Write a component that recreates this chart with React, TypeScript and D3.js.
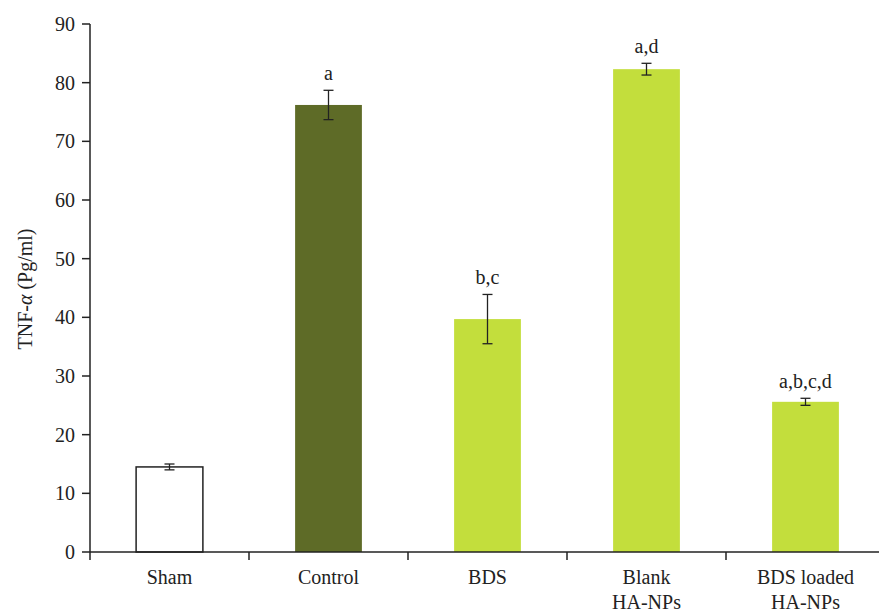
import React from "react";
import * as d3 from "d3";

const categories = ["Sham", "Control", "BDS", "Blank\nHA-NPs", "BDS loaded\nHA-NPs"];
const values = [14.5, 76.2, 39.7, 82.3, 25.6];
const errors = [0.5, 2.5, 4.2, 1.0, 0.6];
const letters = ["", "a", "b,c", "a,d", "a,b,c,d"];
const fills = ["#ffffff", "#5e6b27", "#c3de3c", "#c3de3c", "#c3de3c"];
const yTicks = [0, 10, 20, 30, 40, 50, 60, 70, 80, 90];

export default function App() {
  const W = 879, H = 614;
  const left = 90, top = 24, bottom = 552, right = 885;
  const x = d3.scaleBand<string>().domain(categories).range([left, right]).paddingInner(0).paddingOuter(0);
  const y = d3.scaleLinear().domain([0, 90]).range([bottom, top]);
  const bw = x.bandwidth() * 0.42;
  const font = "'Liberation Serif', 'Times New Roman', serif";
  const fs = 20;
  return (
    <svg width={W} height={H} style={{ position: "absolute", left: 0, top: 0 }} fontFamily={font}>
      <rect width={W} height={H} fill="#fff" />
      {categories.map((c, i) => {
        const cx = x(c)! + x.bandwidth() / 2;
        const yt = y(values[i]);
        return (
          <g key={c}>
            <rect x={cx - bw / 2} y={yt} width={bw} height={bottom - yt} fill={fills[i]}
              stroke={i === 0 ? "#222" : "none"} strokeWidth={1.5} />
            <line x1={cx} x2={cx} y1={y(values[i] + errors[i])} y2={y(values[i] - errors[i])} stroke="#222" strokeWidth={1.3} />
            <line x1={cx - 5} x2={cx + 5} y1={y(values[i] + errors[i])} y2={y(values[i] + errors[i])} stroke="#222" strokeWidth={1.3} />
            <line x1={cx - 5} x2={cx + 5} y1={y(values[i] - errors[i])} y2={y(values[i] - errors[i])} stroke="#222" strokeWidth={1.3} />
            {letters[i] && (
              <text x={cx} y={y(values[i] + errors[i]) - 10} textAnchor="middle" fontSize={fs} fill="#222">{letters[i]}</text>
            )}
            {c.split("\n").map((line, j) => (
              <text key={j} x={cx} y={584 + j * 25} textAnchor="middle" fontSize={fs} fill="#222">{line}</text>
            ))}
          </g>
        );
      })}
      <line x1={left} x2={left} y1={top} y2={bottom + 8} stroke="#222" strokeWidth={1.5} />
      <line x1={left} x2={right} y1={bottom} y2={bottom} stroke="#222" strokeWidth={1.5} />
      {categories.slice(1).map((c) => (
        <line key={c} x1={x(c)!} x2={x(c)!} y1={bottom} y2={bottom + 8} stroke="#222" strokeWidth={1.5} />
      ))}
      {yTicks.map((t) => (
        <g key={t}>
          <line x1={left - 8} x2={left} y1={y(t)} y2={y(t)} stroke="#222" strokeWidth={1.5} />
          <text x={left - 15} y={y(t) + 7} textAnchor="end" fontSize={fs} fill="#222">{t}</text>
        </g>
      ))}
      <text transform={`translate(32, 289) rotate(-90)`} textAnchor="middle" fontSize={fs} fill="#222">
        TNF-<tspan fontStyle="italic">α</tspan> (Pg/ml)
      </text>
    </svg>
  );
}
